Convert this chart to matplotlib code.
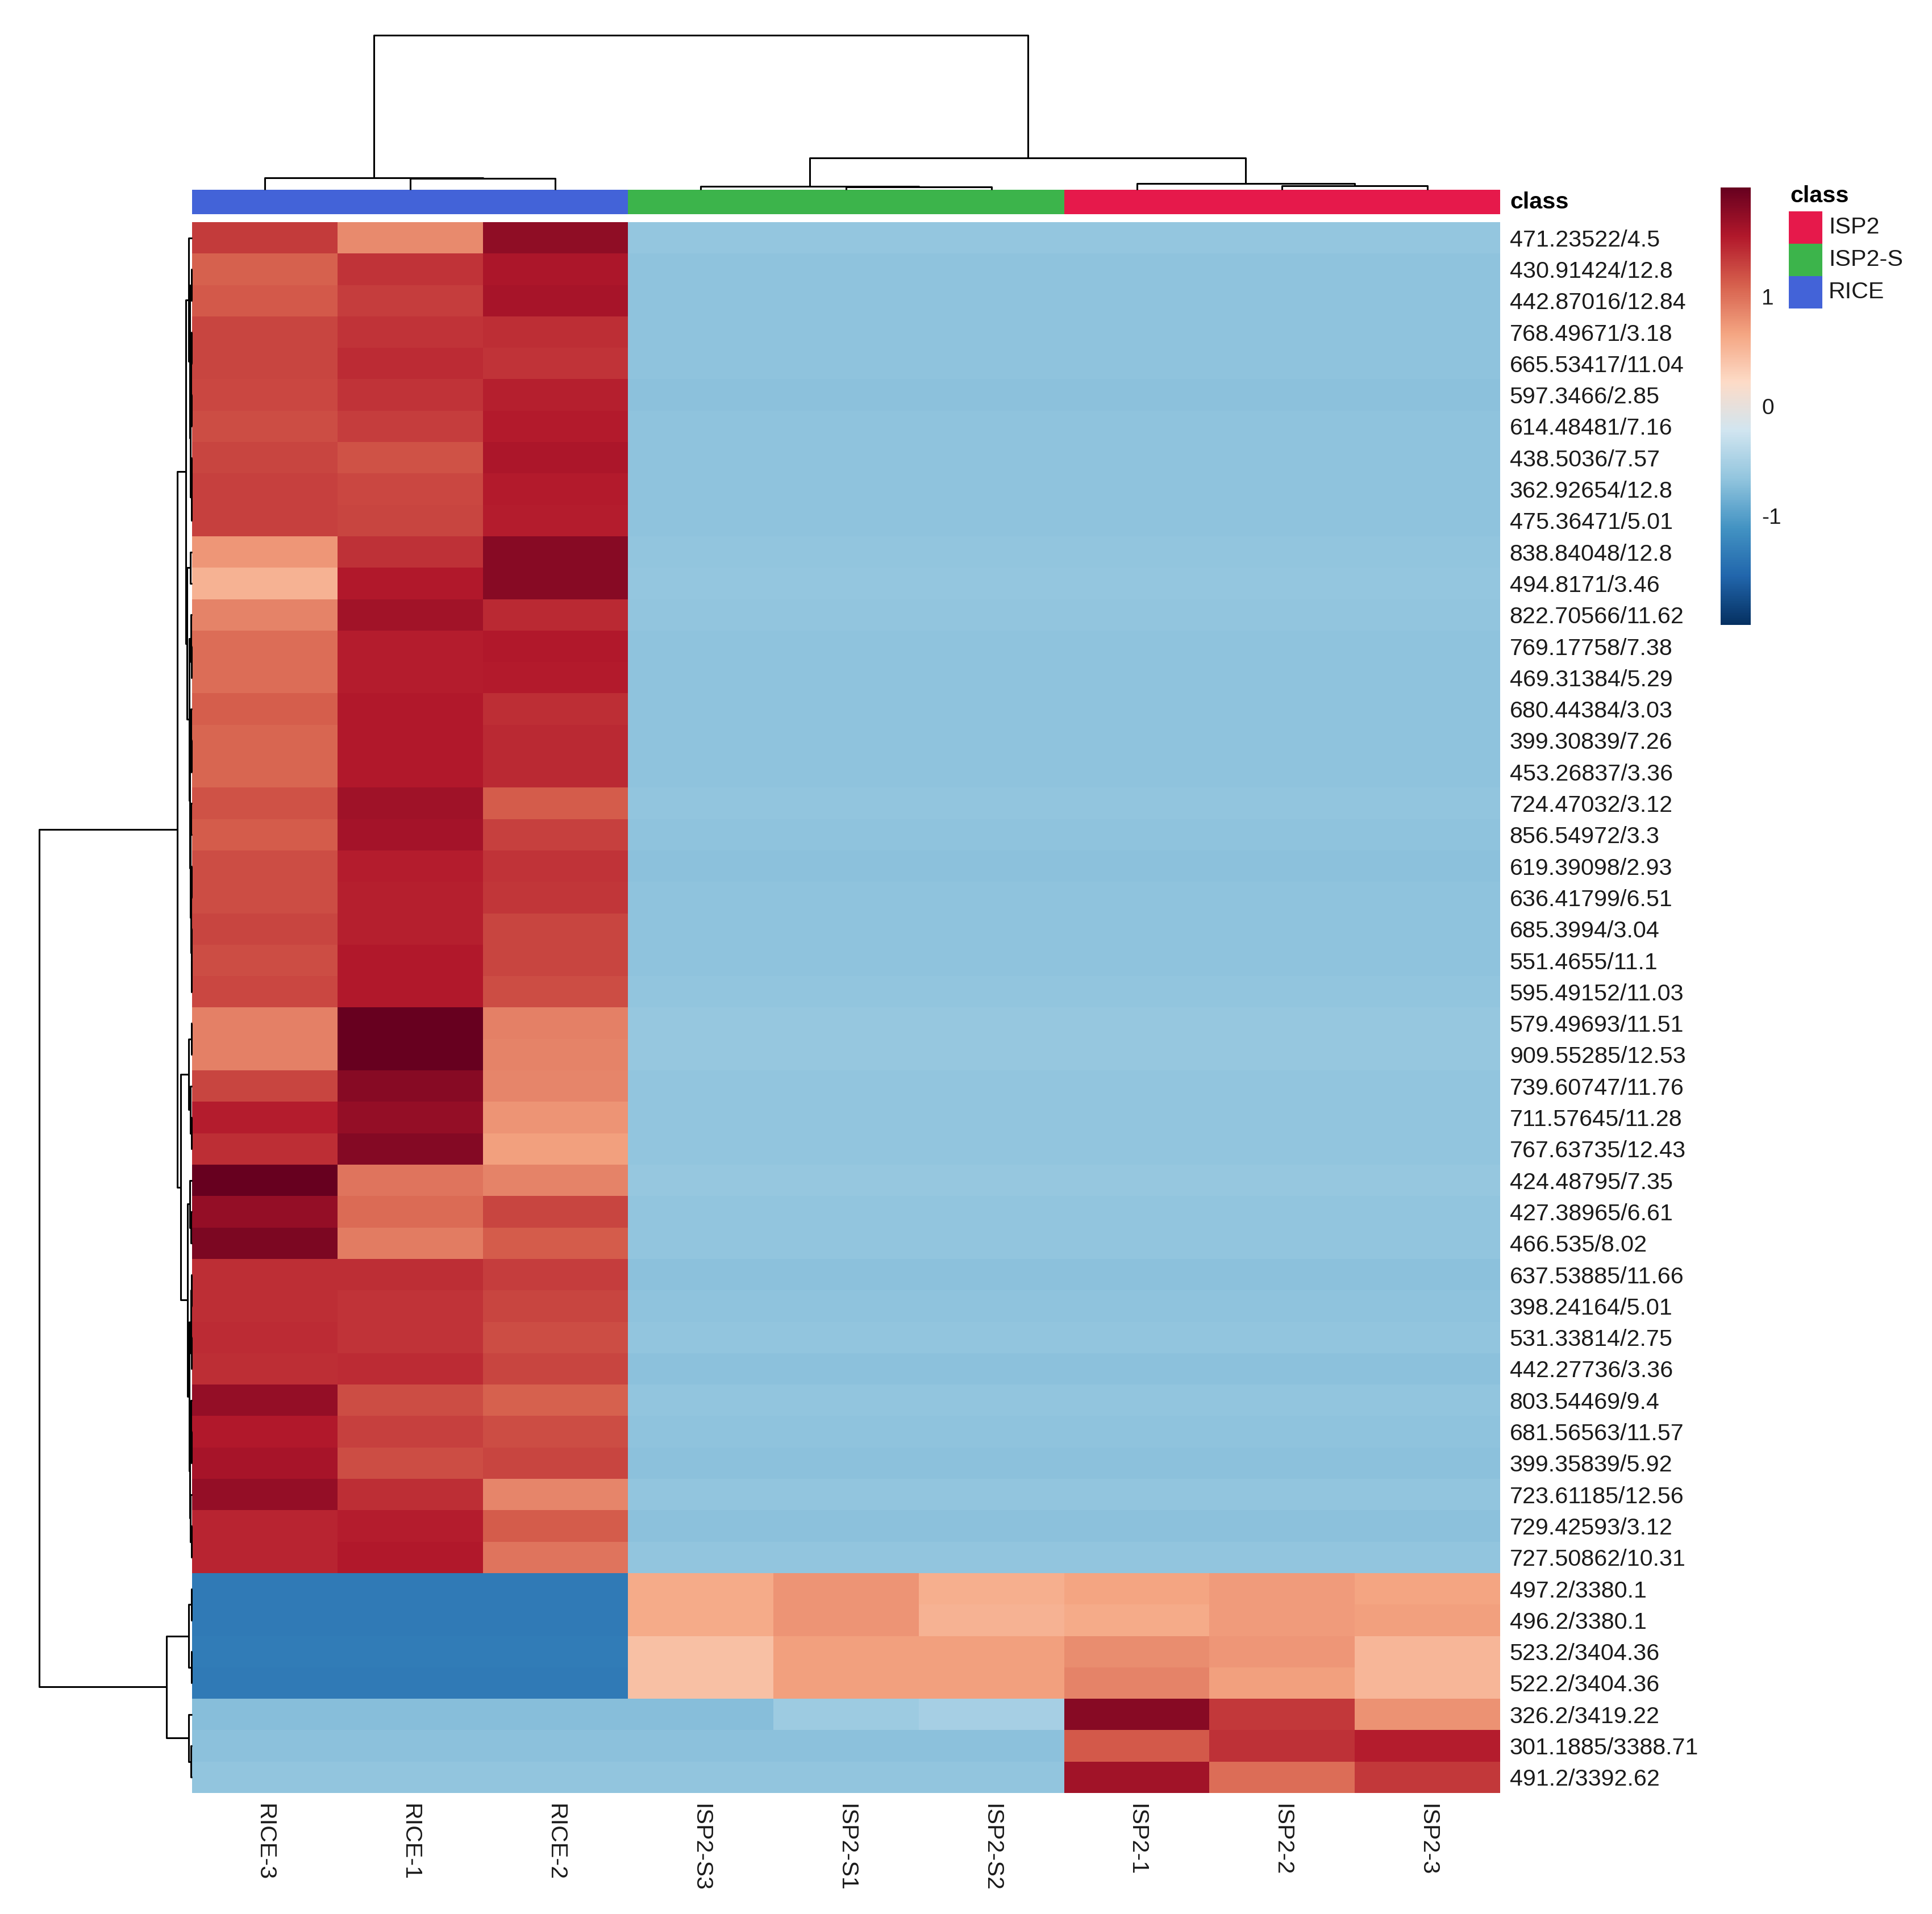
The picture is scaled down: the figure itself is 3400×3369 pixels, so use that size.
import matplotlib
matplotlib.use('Agg')
import matplotlib.pyplot as plt
from matplotlib.colors import LinearSegmentedColormap, ListedColormap
from matplotlib.patches import Rectangle
import numpy as np

plt.rcParams['font.family'] = ['Liberation Sans', 'DejaVu Sans']
plt.rcParams['axes.unicode_minus'] = False

# ---- data ----
row_labels = ['471.23522/4.5', '430.91424/12.8', '442.87016/12.84', '768.49671/3.18',
              '665.53417/11.04', '597.3466/2.85', '614.48481/7.16', '438.5036/7.57',
              '362.92654/12.8', '475.36471/5.01', '838.84048/12.8', '494.8171/3.46',
              '822.70566/11.62', '769.17758/7.38', '469.31384/5.29', '680.44384/3.03',
              '399.30839/7.26', '453.26837/3.36', '724.47032/3.12', '856.54972/3.3',
              '619.39098/2.93', '636.41799/6.51', '685.3994/3.04', '551.4655/11.1',
              '595.49152/11.03', '579.49693/11.51', '909.55285/12.53', '739.60747/11.76',
              '711.57645/11.28', '767.63735/12.43', '424.48795/7.35', '427.38965/6.61',
              '466.535/8.02', '637.53885/11.66', '398.24164/5.01', '531.33814/2.75',
              '442.27736/3.36', '803.54469/9.4', '681.56563/11.57', '399.35839/5.92',
              '723.61185/12.56', '729.42593/3.12', '727.50862/10.31', '497.2/3380.1',
              '496.2/3380.1', '523.2/3404.36', '522.2/3404.36', '326.2/3419.22',
              '301.1885/3388.71', '491.2/3392.62']
col_labels = ['RICE-3', 'RICE-1', 'RICE-2', 'ISP2-S3', 'ISP2-S1', 'ISP2-S2',
              'ISP2-1', 'ISP2-2', 'ISP2-3']
col_class = ['RICE', 'RICE', 'RICE', 'ISP2-S', 'ISP2-S', 'ISP2-S', 'ISP2', 'ISP2', 'ISP2']
class_names = ['ISP2', 'ISP2-S', 'RICE']
class_colors = {'ISP2': '#e6194b', 'ISP2-S': '#3cb44b', 'RICE': '#4363d8'}

# z-scores, one list per sample
rice3 = [1.33, 1.10, 1.15, 1.28, 1.28, 1.25, 1.23, 1.27, 1.30, 1.30,
         0.75, 0.55, 0.88, 1.03, 1.03, 1.12, 1.07, 1.07, 1.20, 1.13,
         1.22, 1.22, 1.28, 1.22, 1.26, 0.90, 0.90, 1.28, 1.53, 1.42,
         2.00, 1.72, 1.87, 1.42, 1.42, 1.43, 1.42, 1.72, 1.56, 1.62,
         1.72, 1.48, 1.48, -1.35, -1.35, -1.33, -1.35, -0.72, -0.70, -0.67]
rice1 = [0.84, 1.38, 1.32, 1.38, 1.43, 1.38, 1.32, 1.20, 1.25, 1.28,
         1.40, 1.56, 1.65, 1.52, 1.53, 1.55, 1.55, 1.56, 1.66, 1.63,
         1.52, 1.50, 1.50, 1.55, 1.55, 2.00, 2.00, 1.80, 1.72, 1.82,
         0.97, 1.04, 0.93, 1.42, 1.38, 1.38, 1.43, 1.22, 1.30, 1.22,
         1.42, 1.52, 1.56, -1.35, -1.35, -1.33, -1.35, -0.72, -0.70, -0.67]
rice2 = [1.75, 1.58, 1.62, 1.42, 1.38, 1.50, 1.54, 1.58, 1.54, 1.52,
         1.80, 1.80, 1.45, 1.55, 1.54, 1.42, 1.45, 1.45, 1.13, 1.30,
         1.38, 1.36, 1.28, 1.28, 1.22, 0.90, 0.88, 0.87, 0.77, 0.70,
         0.88, 1.28, 1.13, 1.32, 1.28, 1.22, 1.28, 1.10, 1.22, 1.28,
         0.86, 1.13, 0.97, -1.35, -1.35, -1.33, -1.35, -0.72, -0.70, -0.67]
# the six non-RICE samples share one value in each of the first 43 rows
rest_upper = [-0.65, -0.68, -0.68, -0.68, -0.68, -0.69, -0.68, -0.68, -0.68, -0.68,
              -0.66, -0.65, -0.66, -0.68, -0.68, -0.68, -0.68, -0.68, -0.67, -0.68,
              -0.69, -0.68, -0.68, -0.68, -0.67, -0.63, -0.63, -0.66, -0.67, -0.66,
              -0.64, -0.67, -0.66, -0.69, -0.68, -0.67, -0.69, -0.67, -0.68, -0.69,
              -0.67, -0.69, -0.67]
isp2s3 = rest_upper + [0.62, 0.62, 0.45, 0.45, -0.73, -0.70, -0.67]
isp2s1 = rest_upper + [0.78, 0.78, 0.70, 0.70, -0.58, -0.70, -0.67]
isp2s2 = rest_upper + [0.58, 0.55, 0.70, 0.70, -0.52, -0.70, -0.67]
isp2_1 = rest_upper + [0.66, 0.62, 0.82, 0.89, 1.80, 1.15, 1.65]
isp2_2 = rest_upper + [0.73, 0.73, 0.76, 0.70, 1.35, 1.40, 1.03]
isp2_3 = rest_upper + [0.67, 0.70, 0.52, 0.52, 0.79, 1.52, 1.35]

# dendrograms: [left, right, height], leaves are positions
col_tree = [[0, [1, 2, 19.7], 21.3],
            [[3, [4, 5, 5.0], 6.3], [6, [7, 8, 7.3], 10.7], 55.7], 272.0]

A2 = [[1, 2, 1.5], [[[3, 4, 1.0], [5, 6, 1.2], 2.0], [[7, 8, 1.0], 9, 1.5], 2.6], 3.6]
A = [0, A2, 6.3]
B = [[10, 11, 3.0], [[12, [13, 14, 1.0], 2.2],
                     [[15, [16, 17, 1.0], 1.8],
                      [[18, 19, 2.0], [[20, 21, 1.0], [22, [23, 24, 1.0], 1.5], 2.2], 3.2],
                      4.2], 5.5], 8.7]
C = [[25, 26, 1.2], [27, [28, 29, 1.5], 2.8], 6.3]
D = [[30, [31, 32, 2.0], 3.8],
     [[[33, 34, 1.0], [35, 36, 1.0], 2.0],
      [[37, [38, 39, 1.5], 2.5], [40, [41, 42, 1.5], 2.6], 3.6], 5.0], 8.0]
red_block = [[A, B, 11.3], [C, D, 20.0], 26.3]
blue_block = [[[43, 44, 1.0], [45, 46, 1.5], 5.7], [47, [48, 49, 2.0], 5.7], 44.7]
row_tree = [red_block, blue_block, 269.0]

rdbu10 = ['#67001F', '#B2182B', '#D6604D', '#F4A582', '#FDDBC7',
          '#D1E5F0', '#92C5DE', '#4393C3', '#2166AC', '#053061']

W, H = 3400, 3369
FS = 29.7
TXT = '#1a1a1a'


def box(l, t, r, b):
    return [l / W, 1 - b / H, (r - l) / W, (b - t) / H]


def draw_tree(ax, node, side):
    if isinstance(node, int):
        return node + 0.5, 0.0
    left, right, h = node
    p1, h1 = draw_tree(ax, left, side)
    p2, h2 = draw_tree(ax, right, side)
    pos = [p1, p1, p2, p2]
    hts = [h1, h, h, h2]
    if side == 'top':
        ax.plot(pos, hts, color='black', lw=2.2, clip_on=False, solid_capstyle='butt')
    else:
        ax.plot(hts, pos, color='black', lw=2.2, clip_on=False, solid_capstyle='butt')
    return (p1 + p2) / 2, h


def main():
    data = np.array([rice3, rice1, rice2, isp2s3, isp2s1, isp2s2, isp2_1, isp2_2, isp2_3]).T
    cmap = LinearSegmentedColormap.from_list('rdbu', rdbu10[::-1], N=256)
    nrow, ncol = data.shape

    fig = plt.figure(figsize=(W / 100, H / 100), dpi=100)

    # heatmap
    ax = fig.add_axes(box(338, 391, 2640, 3156))
    mesh = ax.pcolormesh(np.arange(ncol + 1), np.arange(nrow + 1), data,
                         cmap=cmap, vmin=-2, vmax=2)
    ax.set_xlim(0, ncol)
    ax.set_ylim(nrow, 0)
    for s in ax.spines.values():
        s.set_visible(False)
    ax.set_xticks(np.arange(ncol) + 0.5)
    ax.set_xticklabels(col_labels, rotation=270, fontsize=FS, color=TXT)
    ax.yaxis.tick_right()
    ax.set_yticks(np.arange(nrow) + 0.5)
    ax.set_yticklabels(row_labels, fontsize=FS, color=TXT)
    ax.tick_params(axis='x', length=0, pad=14)
    ax.tick_params(axis='y', length=0, pad=12)

    # class annotation bar
    axb = fig.add_axes(box(338, 334, 2640, 377))
    codes = np.array([[class_names.index(c) for c in col_class]])
    axb.pcolormesh(np.arange(ncol + 1), [0, 1], codes,
                   cmap=ListedColormap([class_colors[c] for c in class_names]),
                   vmin=-0.5, vmax=len(class_names) - 0.5)
    axb.set_xlim(0, ncol)
    axb.axis('off')
    fig.text(2657 / W, 1 - 356 / H, 'class', fontsize=FS, fontweight='bold',
             va='center', ha='left')

    # column dendrogram
    axt = fig.add_axes(box(338, 62, 2640, 334))
    draw_tree(axt, col_tree, 'top')
    axt.set_xlim(0, ncol)
    axt.set_ylim(0, 272)
    axt.axis('off')

    # row dendrogram
    axl = fig.add_axes(box(69, 391, 338, 3156))
    draw_tree(axl, row_tree, 'left')
    axl.set_xlim(269, 0)
    axl.set_ylim(nrow, 0)
    axl.axis('off')

    # colour key
    cax = fig.add_axes(box(3028, 330, 3081, 1100))
    cb = fig.colorbar(mesh, cax=cax, ticks=[-1, 0, 1])
    cb.outline.set_visible(False)
    cax.tick_params(length=0, pad=14, labelsize=28, labelcolor=TXT)

    # class legend
    fig.text(3150 / W, 1 - 345 / H, 'class', fontsize=FS, fontweight='bold',
             va='center', ha='left')
    top = 372
    for name in class_names:
        fig.patches.append(Rectangle((3148 / W, 1 - (top + 57) / H), 59 / W, 57 / H,
                                     transform=fig.transFigure,
                                     facecolor=class_colors[name], edgecolor='none'))
        fig.text(3218 / W, 1 - (top + 28) / H, name, fontsize=FS, va='center',
                 ha='left', color=TXT)
        top += 57

    fig.savefig('out.png', dpi=100)


if __name__ == '__main__':
    main()
